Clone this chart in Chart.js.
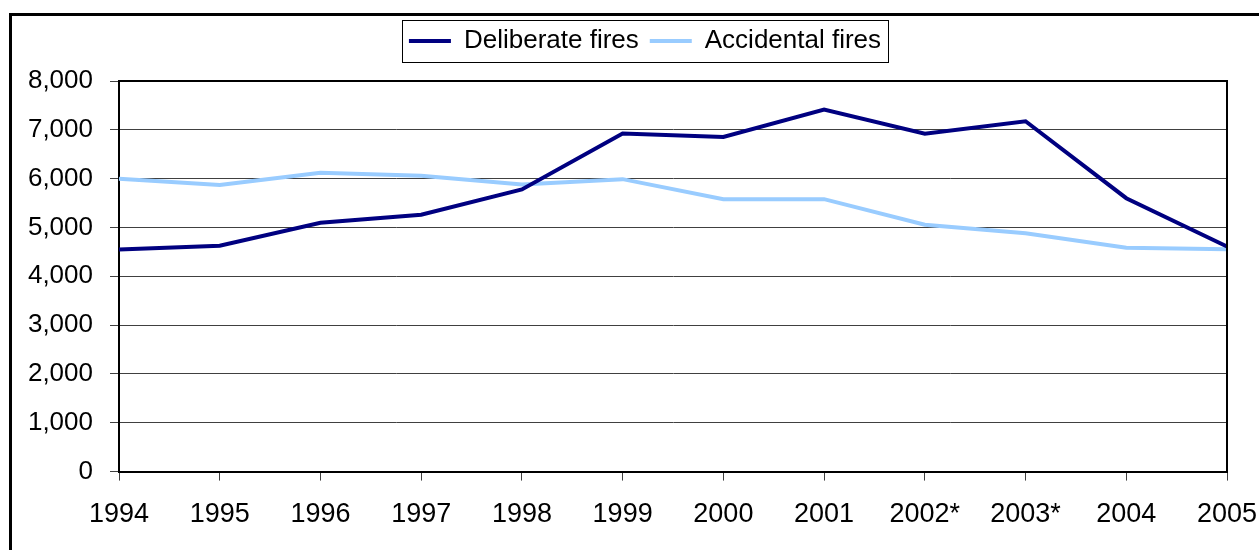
<!DOCTYPE html>
<html>
<head>
<meta charset="utf-8">
<script src="https://cdn.jsdelivr.net/npm/chart.js@4.4.1/dist/chart.umd.min.js"></script>
<style>
    html, body { margin: 0; padding: 0; background: #fff; }
    #wrap { width: 1259px; height: 550px; position: relative; }
</style>
</head>
<body>
<div id="wrap"><canvas id="fires"></canvas></div>
<script>
const years = ['1994', '1995', '1996', '1997', '1998', '1999', '2000', '2001', '2002*', '2003*', '2004', '2005'];
const deliberate = [4550, 4625, 5095, 5260, 5780, 6925, 6855, 7415, 6920, 7175, 5600, 4610];
const accidental = [6000, 5870, 6120, 6060, 5880, 5990, 5580, 5580, 5055, 4880, 4585, 4555];
const yTicks = [0, 1000, 2000, 3000, 4000, 5000, 6000, 7000, 8000];

Chart.defaults.font.family = '"Liberation Sans", Arial, sans-serif';
Chart.defaults.color = '#000';

// legend sits a bit left of the plot centre in the original
const legendShift = {
    id: 'legendShift',
    afterLayout(chart) {
        const lg = chart.legend;
        const dx = 645 - (lg.left + lg.right) / 2;
        lg.left += dx;
        lg.right += dx;
    }
};

// outer frame, legend box and plot frame (top/right edges)
const frames = {
    id: 'frames',
    afterDraw(chart) {
        const ctx = chart.ctx;
        const area = chart.chartArea;
        ctx.save();
        ctx.strokeStyle = '#000';
        ctx.lineWidth = 3;
        ctx.strokeRect(10.5, 14.5, chart.width + 20, chart.height + 20);

        const boxes = chart.legend.legendHitBoxes;
        if (boxes && boxes.length) {
            const first = boxes[0];
            const last = boxes[boxes.length - 1];
            ctx.lineWidth = 1;
            const l = Math.round(first.left - 7) + 0.5;
            const r = Math.round(last.left + last.width + 7) + 0.5;
            const t = Math.round(first.top - 8) + 0.5;
            const b = Math.round(first.top + first.height + 8) + 0.5;
            ctx.strokeRect(l, t, r - l, b - t);
        }

        ctx.lineWidth = 2;
        ctx.beginPath();
        ctx.moveTo(area.left, area.top);
        ctx.lineTo(area.right, area.top);
        ctx.lineTo(area.right, area.bottom);
        ctx.stroke();
        ctx.restore();
    }
};

new Chart(document.getElementById('fires'), {
    type: 'line',
    data: {
        labels: years,
        datasets: [{
            label: 'Deliberate fires',
            data: deliberate,
            borderColor: '#000080',
            backgroundColor: '#000080',
            borderWidth: 4,
            pointRadius: 0,
            tension: 0
        }, {
            label: 'Accidental fires',
            data: accidental,
            borderColor: '#99CCFF',
            backgroundColor: '#99CCFF',
            borderWidth: 4,
            pointRadius: 0,
            tension: 0
        }]
    },
    options: {
        responsive: true,
        maintainAspectRatio: false,
        animation: false,
        layout: { padding: { left: 10, right: 32, top: 17, bottom: 1 } },
        plugins: {
            tooltip: { enabled: false },
            legend: {
                position: 'top',
                labels: {
                    font: { size: 26 },
                    usePointStyle: true,
                    pointStyle: 'line',
                    pointStyleWidth: 42,
                    padding: 11
                }
            }
        },
        scales: {
            gap: {
                type: 'category',
                position: 'top',
                display: true,
                grid: { display: false, drawTicks: false },
                border: { display: false },
                ticks: { display: false },
                afterFit(scale) { scale.height = 17; }
            },
            x: {
                offset: false,
                grid: { drawOnChartArea: false, tickLength: 9, color: '#404040' },
                border: { color: '#000', width: 2 },
                ticks: { font: { size: 27 }, padding: 18, maxRotation: 0, autoSkip: false },
                afterFit(scale) {
                    scale.paddingLeft = 0;
                    scale.paddingRight = 0;
                }
            },
            y: {
                min: 0,
                max: 8000,
                afterBuildTicks(scale) { scale.ticks = yTicks.map(v => ({ value: v })); },
                afterFit(scale) { scale.width = 109; },
                grid: { color: '#404040', lineWidth: 1, tickLength: 9 },
                border: { color: '#000', width: 2 },
                ticks: {
                    font: { size: 26 },
                    padding: 17,
                    callback: v => v.toLocaleString('en-US')
                }
            }
        }
    },
    plugins: [legendShift, frames]
});
</script>
</body>
</html>
